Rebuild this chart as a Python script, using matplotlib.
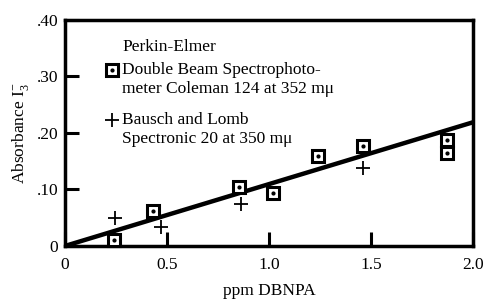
import matplotlib
matplotlib.use('Agg')
from matplotlib import pyplot as plt

plt.rcParams['font.family'] = ['Liberation Serif', 'DejaVu Serif']
plt.rcParams['mathtext.fontset'] = 'custom'
plt.rcParams['mathtext.rm'] = 'Liberation Serif'

# Perkin-Elmer (squares)
pe_x = [0.24, 0.43, 0.85, 1.02, 1.24, 1.46, 1.87, 1.87]
pe_y = [0.011, 0.062, 0.104, 0.094, 0.159, 0.177, 0.188, 0.165]
# Bausch and Lomb (pluses)
bl_x = [0.245, 0.47, 0.86, 1.46]
bl_y = [0.049, 0.034, 0.074, 0.138]
# fitted line
fit_x = [0.0, 2.0]
fit_y = [0.0, 0.219]

xticks = [0, 0.5, 1.0, 1.5, 2.0]
xtick_labels = ['0', '0.5', '1.0', '1.5', '2.0']
yticks = [0, 0.10, 0.20, 0.30, 0.40]
ytick_labels = ['0', '.10', '.20', '.30', '.40']

fs = 12.5

fig = plt.figure(figsize=(4.86, 3.01), dpi=100)
ax = fig.add_axes([0.134, 0.183, 0.840, 0.751])

ax.plot(fit_x, fit_y, color='black', lw=3.2, solid_capstyle='butt')

sq = dict(marker='s', ms=8, mfc='white', mec='black', mew=2.2, ls='none', clip_on=False)
ax.plot(pe_x, pe_y, **sq, zorder=3)
ax.plot(pe_x, pe_y, marker='o', ms=2, color='black', ls='none', clip_on=False, zorder=4)
pl = dict(marker='+', ms=10, mew=1.3, color='black', ls='none', clip_on=False)
ax.plot(bl_x, bl_y, **pl, zorder=3)

# legend keys and text
ax.plot([0.115], [0.779], transform=ax.transAxes, **sq)
ax.plot([0.115], [0.779], transform=ax.transAxes, marker='o', ms=2, color='black', ls='none')
ax.plot([0.115], [0.558], transform=ax.transAxes, **pl)
lines = [
    (0.881, 'Perkin-Elmer'),
    (0.779, 'Double Beam Spectrophoto-'),
    (0.695, 'meter Coleman 124 at 352 mμ'),
    (0.558, 'Bausch and Lomb'),
    (0.473, 'Spectronic 20 at 350 mμ'),
]
for y, s in lines:
    ax.text(0.140, y, s, transform=ax.transAxes, va='center', ha='left', fontsize=fs)

ax.set_xlim(0, 2.0)
ax.set_ylim(0, 0.40)
ax.set_xticks(xticks)
ax.set_xticklabels(xtick_labels)
ax.set_yticks(yticks)
ax.set_yticklabels(ytick_labels)
ax.tick_params(axis='x', direction='in', length=10, width=2.2, labelsize=fs, pad=8)
ax.tick_params(axis='y', direction='in', length=10, width=2.2, labelsize=fs, pad=5)
for sp in ax.spines.values():
    sp.set_linewidth(2.5)

ax.set_xlabel('ppm DBNPA', fontsize=fs, labelpad=7)
ax.set_ylabel(r'Absorbance I$_3^{-}$', fontsize=fs, labelpad=4)

fig.savefig('out.png', dpi=100)
